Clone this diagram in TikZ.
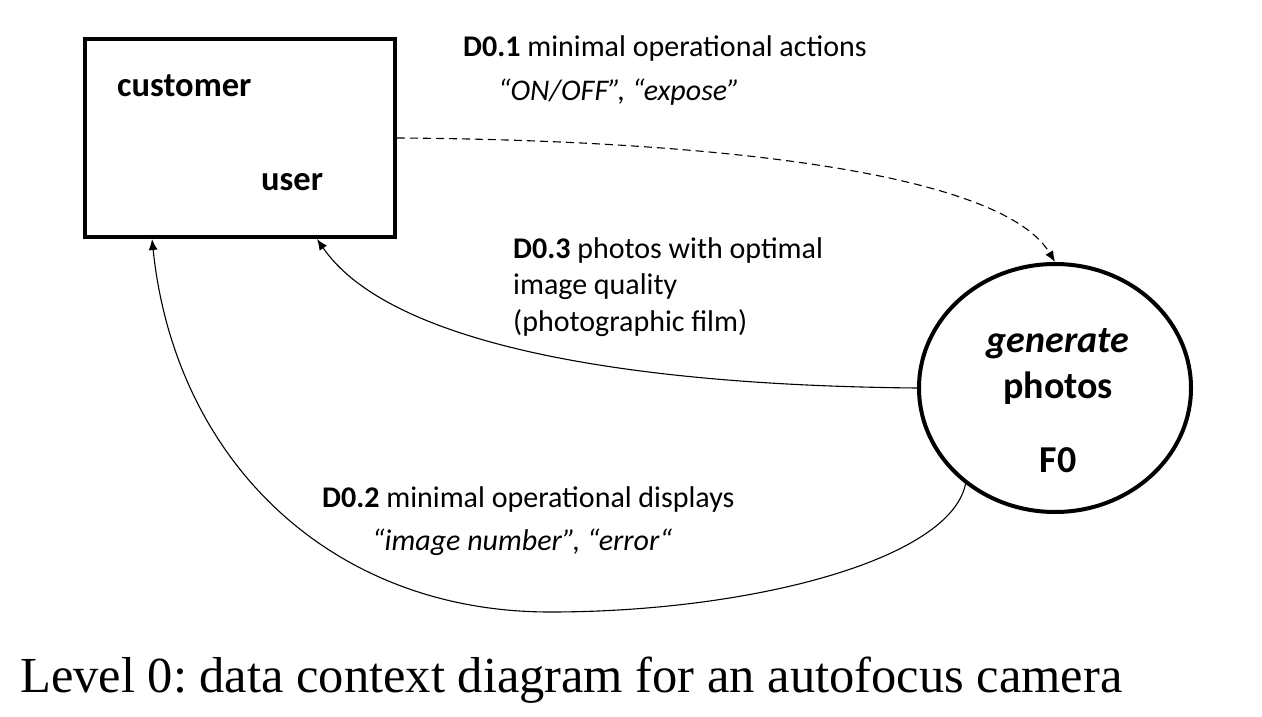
\documentclass[tikz,border=0pt]{standalone}
\usepackage{fontspec}
\setmainfont{Carlito}
\newfontfamily\capfont{Liberation Serif}
\usetikzlibrary{shapes.geometric,arrows.meta}
\frenchspacing
\begin{document}
\begin{tikzpicture}[x=1pt,y=-1pt,
  lbl/.style={anchor=base west,inner sep=0pt,font=\fontsize{30}{36}\selectfont},
  flow/.style={line width=1.1pt,-{Latex[length=11pt,width=9pt]}}]
\useasboundingbox (0,0) rectangle (1262,717);

\node[draw,line width=4pt,minimum width=310pt,minimum height=198pt,inner sep=0pt] (ext) at (240,138) {};
\node[lbl,font=\fontsize{34.5}{40}\selectfont\bfseries] (customer) at (117,96) {customer};
\node[lbl,font=\fontsize{34.5}{40}\selectfont\bfseries] (user) at (261,190) {user};

\node[draw,ellipse,line width=4pt,minimum width=272pt,minimum height=248pt,inner sep=0pt] (proc) at (1055,388) {};
\node[anchor=base,inner sep=0pt,font=\fontsize{38}{44}\selectfont\bfseries\itshape] (gen) at (1058,352) {generate};
\node[anchor=base,inner sep=0pt,font=\fontsize{38}{44}\selectfont\bfseries] (photos) at (1058,398) {photos};
\node[anchor=base,inner sep=0pt,font=\fontsize{38}{44}\selectfont\bfseries] (fzero) at (1058,472) {F0};

\node[lbl] (d01) at (463,57) {\textbf{D0.1} minimal operational actions};
\node[lbl,font=\fontsize{30}{36}\selectfont\itshape] (d01b) at (498,100) {“ON/OFF”, “expose”};

\node[lbl] (d03) at (513,258) {\textbf{D0.3} photos with optimal};
\node[lbl] (d03b) at (513,294) {image quality};
\node[lbl] (d03c) at (513,331) {(photographic film)};

\node[lbl] (d02) at (322,507) {\textbf{D0.2} minimal operational displays};
\node[lbl,font=\fontsize{30}{36}\selectfont\itshape] (d02b) at (372,550) {“image number”, “error“};

\node[anchor=base west,inner sep=0pt,font=\fontsize{50.5}{60}\selectfont\capfont] (cap) at (20,692) {Level 0: data context diagram for an autofocus camera};

\draw[flow,dash pattern=on 8pt off 5pt] (ext.east) .. controls (700,140) and (1000,170) .. (proc.north);
\draw[flow] (proc.west) .. controls (600,385) and (385,338) .. ([xshift=77pt]ext.south);
\draw[flow] (proc.227) .. controls (950,560) and (750,612) .. (550,612) .. controls (330,612) and (175,460) .. ([xshift=-88pt]ext.south);
\end{tikzpicture}
\end{document}
